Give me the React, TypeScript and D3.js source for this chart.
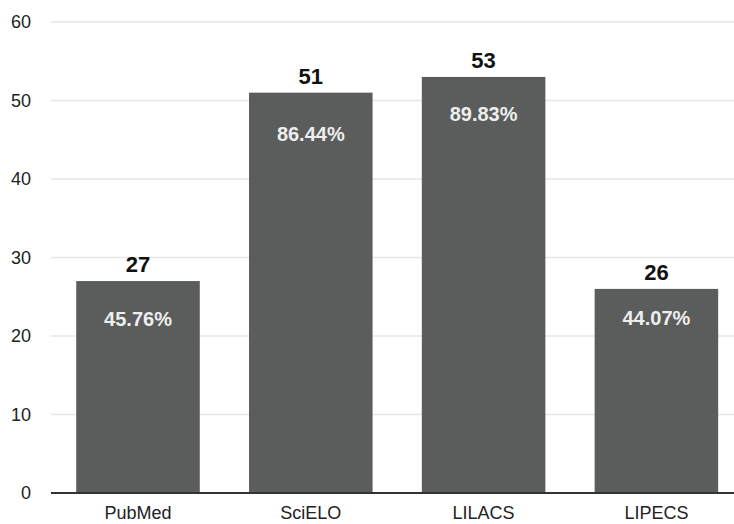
import React from "react";
import * as d3 from "d3";

const categories = ["PubMed", "SciELO", "LILACS", "LIPECS"];
const counts = [27, 51, 53, 26];
const percents = ["45.76%", "86.44%", "89.83%", "44.07%"];
const yTicks = [0, 10, 20, 30, 40, 50, 60];
// label placement (offset of the percent baseline below each bar's top, px)
const pctOffsets = [45, 48, 44, 36];

const W = 734;
const H = 524;
const font = "'Liberation Sans', Arial, Helvetica, sans-serif";

export default function App() {
  const x = d3
    .scaleBand<string>()
    .domain(categories)
    .range([51.6, 742.8])
    .paddingInner(0.285)
    .paddingOuter(0.1425);
  const y = d3.scaleLinear().domain([0, 60]).range([493, 22]);

  return (
    <svg
      width={W}
      height={H}
      style={{ position: "fixed", left: 0, top: 0, background: "#fff" }}
    >
      {yTicks.map((t) => (
        <g key={t}>
          {t !== 0 && (
            <line x1={51} x2={W} y1={y(t)} y2={y(t)} stroke="#e6e6e6" strokeWidth={1.5} />
          )}
          <text
            x={31}
            y={y(t)}
            dy="0.36em"
            textAnchor="end"
            fontFamily={font}
            fontSize={18}
            fill="#222"
          >
            {t}
          </text>
        </g>
      ))}
      {categories.map((c, i) => {
        const x0 = x(c)!;
        const bw = x.bandwidth();
        const top = y(counts[i]);
        return (
          <g key={c}>
            <rect x={x0} y={top} width={bw} height={y(0) - top} fill="#5a5d5b" />
            <text
              x={x0 + bw / 2}
              y={top - 9}
              textAnchor="middle"
              fontFamily={font}
              fontSize={22}
              fontWeight="bold"
              fill="#111"
            >
              {counts[i]}
            </text>
            <text
              x={x0 + bw / 2}
              y={top + pctOffsets[i]}
              textAnchor="middle"
              fontFamily={font}
              fontSize={20}
              fontWeight="bold"
              fill="#eeeeee"
            >
              {percents[i]}
            </text>
            <text
              x={x0 + bw / 2}
              y={519}
              textAnchor="middle"
              fontFamily={font}
              fontSize={18}
              fill="#222"
            >
              {c}
            </text>
          </g>
        );
      })}
      <line x1={51} x2={W} y1={y(0)} y2={y(0)} stroke="#333" strokeWidth={2} />
    </svg>
  );
}
